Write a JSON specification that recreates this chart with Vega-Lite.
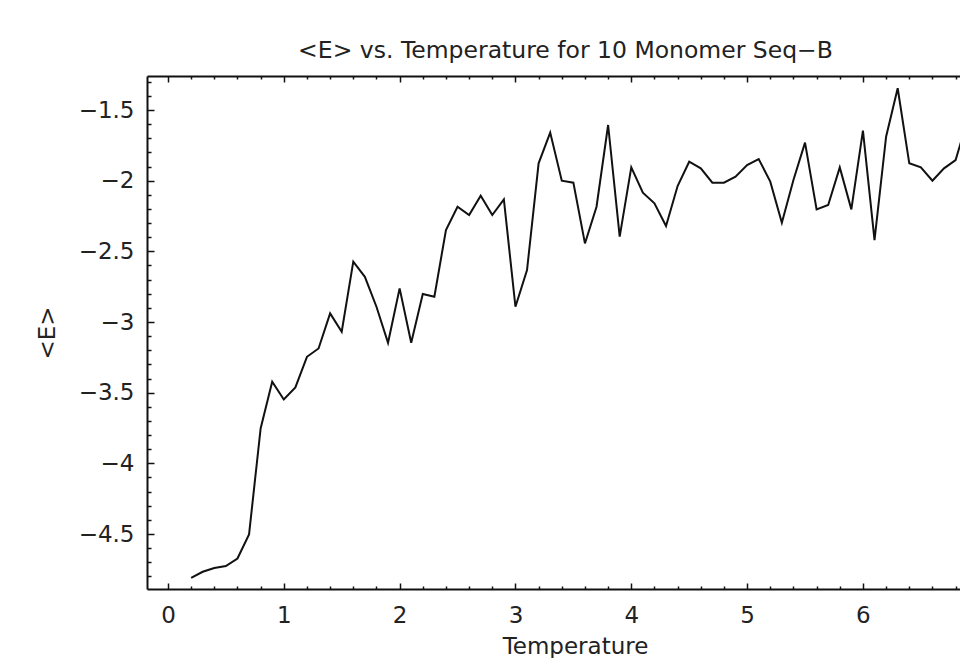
{
  "$schema": "https://vega.github.io/schema/vega-lite/v6.json",
  "autosize": {"type": "none"},
  "width": 813,
  "height": 513,
  "padding": {"left": 147, "top": 76, "right": 0, "bottom": 69},
  "background": "white",
  "config": {
    "view": {"stroke": null},
    "font": "DejaVu Sans",
    "axis": {
      "domainColor": "#111",
      "domainWidth": 2,
      "tickColor": "#111",
      "tickWidth": 1.5,
      "grid": false,
      "labelFont": "DejaVu Sans",
      "labelFontSize": 23,
      "labelColor": "#222",
      "titleFont": "DejaVu Sans",
      "titleFontSize": 23,
      "titleFontWeight": "normal",
      "titleColor": "#222"
    }
  },
  "title": {
    "text": "<E> vs. Temperature for 10 Monomer  Seq−B",
    "font": "DejaVu Sans",
    "fontSize": 23.5,
    "fontWeight": "normal",
    "color": "#222",
    "anchor": "middle",
    "dx": 12,
    "baseline": "alphabetic",
    "offset": -6
  },
  "data": {
    "values": [
      {"T": 0.2, "E": -4.81}, {"T": 0.3, "E": -4.767}, {"T": 0.4, "E": -4.74}, {"T": 0.5, "E": -4.727},
      {"T": 0.6, "E": -4.673}, {"T": 0.7, "E": -4.503}, {"T": 0.8, "E": -3.753}, {"T": 0.9, "E": -3.423},
      {"T": 1.0, "E": -3.548}, {"T": 1.1, "E": -3.463}, {"T": 1.2, "E": -3.246}, {"T": 1.3, "E": -3.187},
      {"T": 1.4, "E": -2.939}, {"T": 1.5, "E": -3.069}, {"T": 1.6, "E": -2.573}, {"T": 1.7, "E": -2.68},
      {"T": 1.8, "E": -2.892}, {"T": 1.9, "E": -3.147}, {"T": 2.0, "E": -2.762}, {"T": 2.1, "E": -3.147},
      {"T": 2.2, "E": -2.802}, {"T": 2.3, "E": -2.821}, {"T": 2.4, "E": -2.349}, {"T": 2.5, "E": -2.184},
      {"T": 2.6, "E": -2.243}, {"T": 2.7, "E": -2.106}, {"T": 2.8, "E": -2.243}, {"T": 2.9, "E": -2.132},
      {"T": 3.0, "E": -2.892}, {"T": 3.1, "E": -2.632}, {"T": 3.2, "E": -1.877}, {"T": 3.3, "E": -1.66},
      {"T": 3.4, "E": -2.0}, {"T": 3.5, "E": -2.014}, {"T": 3.6, "E": -2.444}, {"T": 3.7, "E": -2.184},
      {"T": 3.8, "E": -1.606}, {"T": 3.9, "E": -2.396}, {"T": 4.0, "E": -1.906}, {"T": 4.1, "E": -2.085},
      {"T": 4.2, "E": -2.16}, {"T": 4.3, "E": -2.321}, {"T": 4.4, "E": -2.038}, {"T": 4.5, "E": -1.866},
      {"T": 4.6, "E": -1.913}, {"T": 4.7, "E": -2.014}, {"T": 4.8, "E": -2.014}, {"T": 4.9, "E": -1.972},
      {"T": 5.0, "E": -1.889}, {"T": 5.1, "E": -1.847}, {"T": 5.2, "E": -2.007}, {"T": 5.3, "E": -2.297},
      {"T": 5.4, "E": -1.995}, {"T": 5.5, "E": -1.731}, {"T": 5.6, "E": -2.203}, {"T": 5.7, "E": -2.172},
      {"T": 5.8, "E": -1.906}, {"T": 5.9, "E": -2.203}, {"T": 6.0, "E": -1.646}, {"T": 6.1, "E": -2.42},
      {"T": 6.2, "E": -1.689}, {"T": 6.3, "E": -1.346}, {"T": 6.4, "E": -1.877}, {"T": 6.5, "E": -1.906},
      {"T": 6.6, "E": -2.0}, {"T": 6.7, "E": -1.913}, {"T": 6.8, "E": -1.854}, {"T": 6.9, "E": -1.58}
    ]
  },
  "resolve": {"axis": {"x": "independent", "y": "independent"}},
  "layer": [
    {
      "mark": {"type": "line", "color": "#111", "strokeWidth": 2, "clip": true},
      "encoding": {
        "x": {
          "field": "T", "type": "quantitative",
          "scale": {"domain": [-0.181, 6.838], "nice": false, "zero": false},
          "axis": {
            "orient": "bottom", "values": [0, 1, 2, 3, 4, 5, 6], "format": "~g",
            "tickSize": -6, "labelPadding": 21, "title": "Temperature", "titlePadding": 8,
            "titleX": 428
          }
        },
        "y": {
          "field": "E", "type": "quantitative",
          "scale": {"domain": [-4.889, -1.2594], "nice": false, "zero": false},
          "axis": {
            "orient": "left", "values": [-4.5, -4, -3.5, -3, -2.5, -2, -1.5], "format": "~g",
            "tickSize": -7, "labelPadding": 20, "title": "<E>", "titlePadding": 19
          }
        }
      }
    },
    {
      "mark": {"type": "line", "strokeOpacity": 0},
      "encoding": {
        "x": {
          "field": "T", "type": "quantitative",
          "axis": {
            "orient": "bottom",
            "values": [0.2, 0.4, 0.6, 0.8, 1.2, 1.4, 1.6, 1.8, 2.2, 2.4, 2.6, 2.8, 3.2, 3.4, 3.6, 3.8, 4.2, 4.4, 4.6, 4.8, 5.2, 5.4, 5.6, 5.8, 6.2, 6.4, 6.6, 6.8],
            "tickSize": -3, "labels": false, "domain": false, "title": null
          }
        },
        "y": {
          "field": "E", "type": "quantitative",
          "axis": {
            "orient": "left",
            "values": [-4.8, -4.7, -4.6, -4.4, -4.3, -4.2, -4.1, -3.9, -3.8, -3.7, -3.6, -3.4, -3.3, -3.2, -3.1, -2.9, -2.8, -2.7, -2.6, -2.4, -2.3, -2.2, -2.1, -1.9, -1.8, -1.7, -1.6, -1.4, -1.3],
            "tickSize": -4, "labels": false, "domain": false, "title": null
          }
        }
      }
    },
    {
      "mark": {"type": "line", "strokeOpacity": 0},
      "encoding": {
        "x": {
          "field": "T", "type": "quantitative",
          "axis": {
            "orient": "top", "values": [0, 1, 2, 3, 4, 5, 6],
            "tickSize": -6, "labels": false, "domain": true, "title": null
          }
        },
        "y": {"field": "E", "type": "quantitative", "axis": null}
      }
    },
    {
      "mark": {"type": "line", "strokeOpacity": 0},
      "encoding": {
        "x": {
          "field": "T", "type": "quantitative",
          "axis": {
            "orient": "top",
            "values": [0.2, 0.4, 0.6, 0.8, 1.2, 1.4, 1.6, 1.8, 2.2, 2.4, 2.6, 2.8, 3.2, 3.4, 3.6, 3.8, 4.2, 4.4, 4.6, 4.8, 5.2, 5.4, 5.6, 5.8, 6.2, 6.4, 6.6, 6.8],
            "tickSize": -3, "labels": false, "domain": false, "title": null
          }
        },
        "y": {"field": "E", "type": "quantitative", "axis": null}
      }
    }
  ]
}
